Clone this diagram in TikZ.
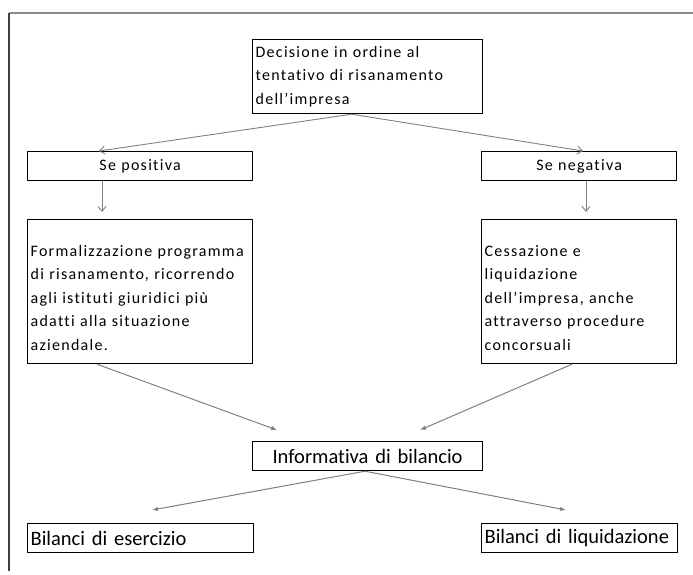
\documentclass[tikz,border=0pt]{standalone}
\usepackage{fontspec}
\setmainfont{Carlito}
\usetikzlibrary{arrows.meta,calc}
\begin{document}
\begin{tikzpicture}[x=1pt,y=-1pt,
  box/.style={draw=black, line width=1.2pt, inner sep=3pt, anchor=north west},
  spaced/.style={font={\fontsize{16}{23.5}\selectfont\addfontfeatures{LetterSpace=8,Ligatures=NoCommon}}},
  big/.style={font={\fontsize{20.5}{22}\selectfont\addfontfeatures{Ligatures=NoCommon}}},
  mid/.style={font={\fontsize{20.5}{22}\selectfont}},
  openarrow/.style={draw=gray, line width=0.9pt, -{Straight Barb[length=5pt,width=8pt]}},
  fillarrow/.style={draw=gray, line width=1pt, -{Latex[length=6pt,width=4.5pt]}}]
\useasboundingbox (0,0) rectangle (693,574);
% outer frame, open on the right
\draw[black!45, line width=1.2pt] (9,13) -- (693,13);
\draw[black!75, line width=1.4pt] (9,571) -- (9,13);

% boxes
\node[box, spaced, minimum width=230pt, minimum height=74pt, text width=224pt, align=left] (dec) at (252,39)
  {Decisione in ordine al\\tentativo di risanamento\\dell'impresa};
\node[box, spaced, minimum width=225pt, minimum height=29pt, text width=219pt, align=center] (pos) at (27,151)
  {Se positiva};
\node[box, spaced, minimum width=195pt, minimum height=29pt, text width=189pt, align=center] (neg) at (481,151)
  {Se negativa};
\node[box, spaced, minimum width=225pt, minimum height=144pt, text width=219pt, align=left] (form) at (27,219)
  {\mbox{}\\Formalizzazione programma\\di risanamento, ricorrendo\\agli istituti giuridici più\\adatti alla situazione\\aziendale.};
\node[box, spaced, minimum width=195pt, minimum height=144pt, text width=189pt, align=left] (cess) at (481,219)
  {\mbox{}\\Cessazione e\\liquidazione\\dell'impresa, anche\\attraverso procedure\\concorsuali};
\node[box, big, minimum width=230pt, minimum height=29pt, text width=224pt, align=center] (info) at (252,441)
  {Informativa di bilancio};
\node[box, mid, minimum width=226pt, minimum height=29pt, text width=220pt, align=left] (eser) at (27,523)
  {Bilanci di esercizio};
\node[box, mid, minimum width=196pt, minimum height=29pt, text width=190pt, align=left] (liq) at (481,523)
  {Bilanci di liquidazione};

% connector end points
\coordinate (decout) at ($(dec.south)+(-16,0)$);
\coordinate (posin) at ($(pos.north west)+(72,0)$);
\coordinate (negin) at ($(neg.north west)+(102,0)$);
\coordinate (posout) at ($(pos.south west)+(75,0)$);
\coordinate (formin) at ($(form.north west)+(75,-7)$);
\coordinate (negout) at ($(neg.south west)+(105,0)$);
\coordinate (cessin) at ($(cess.north west)+(105,-7)$);
\coordinate (formout) at ($(form.south west)+(70,0)$);
\coordinate (cessout) at ($(cess.south west)+(91,0)$);
\coordinate (infoinl) at ($(info.north west)+(25,-11)$);
\coordinate (infoinr) at ($(info.north west)+(168,-11)$);
\coordinate (infoout) at ($(info.south west)+(113,0)$);
\coordinate (eserin) at ($(eser.north west)+(125,-13)$);
\coordinate (liqin) at ($(liq.north west)+(85,-13)$);

% connectors
\draw[openarrow] (decout) -- (posin);
\draw[openarrow] (decout) -- (negin);
\draw[openarrow] (posout) -- (formin);
\draw[openarrow] (negout) -- (cessin);
\draw[fillarrow] (formout) -- (infoinl);
\draw[fillarrow] (cessout) -- (infoinr);
\draw[fillarrow] (infoout) -- (eserin);
\draw[fillarrow] (infoout) -- (liqin);
\end{tikzpicture}
\end{document}
